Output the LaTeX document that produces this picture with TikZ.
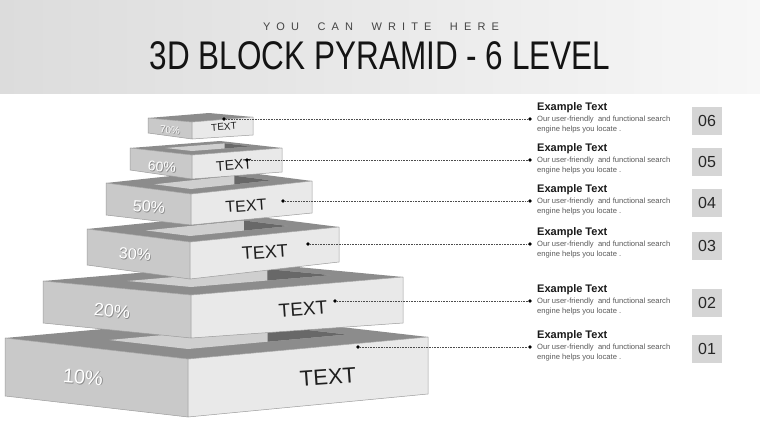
\documentclass[tikz,border=0pt]{standalone}
\usepackage{fontspec}
\usepackage{graphicx}
\setmainfont{Liberation Sans}
\usetikzlibrary{calc}
\definecolor{hdrL}{HTML}{DCDCDC}
\definecolor{hdrR}{HTML}{F7F7F7}
\definecolor{topc}{HTML}{8C8C8C}
\definecolor{leftc}{HTML}{C9C9C9}
\definecolor{rightc}{HTML}{E9E9E9}
\definecolor{holel}{HTML}{CFCFCF}
\definecolor{holed}{HTML}{686868}
\definecolor{edgec}{HTML}{9C9C9C}
\definecolor{subc}{HTML}{444444}
\definecolor{bodyc}{HTML}{5A5A5A}
\definecolor{boxc}{HTML}{D5D5D5}
\definecolor{shadc}{HTML}{8A8A8A}

\newcommand{\pyrblock}[2]{%
  \coordinate (#1a) at ($(#1L)-(#1F)$);
  \coordinate (#1b) at ($(#1R)-(#1F)$);
  \coordinate (#1B) at ($(#1L)+(#1b)$);
  \fill[topc] (#1L) -- (#1F) -- (#1R) -- (#1B) -- cycle;
  \ifdim #2pt>0pt
  \coordinate (#1Fh) at ($(#1F)+(0,-#2)$);
  \coordinate (#1Lh) at ($(#1Fh)+0.43*(#1a)$);
  \coordinate (#1Rh) at ($(#1Fh)+0.66*(#1b)$);
  \coordinate (#1Bh) at ($(#1Lh)+0.66*(#1b)$);
  \begin{scope}
    \clip (#1Lh) -- (#1Fh) -- (#1Rh) -- (#1Bh) -- cycle;
    \fill[holel] (#1Lh) -- (#1Fh) -- (#1Rh) -- (#1Bh) -- cycle;
    \fill[holed] (#1Bh) -- (#1Rh) -- ($(#1Rh)+(0,60)$) -- ($(#1Bh)+(0,60)$) -- cycle;
  \end{scope}
  \fi
  \draw[face, fill=leftc] (#1L) -- (#1F) -- (#1Fb) -- (#1Lb) -- cycle;
  \draw[face, fill=rightc] (#1F) -- (#1R) -- (#1Rb) -- (#1Fb) -- cycle;
}
\newcommand{\pctlabel}[5]{% name, pos, size, rot, text
  \node[font=\fontsize{#3}{#3}\selectfont, text=shadc, rotate=#4] at ($(#2)+(0.8,0.8)$) {#5};
  \node[font=\fontsize{#3}{#3}\selectfont, text=white, rotate=#4] (#1) at (#2) {#5};
}
\newcommand{\infoitem}[3]{% idx, y of body line 1, number
  \node[font=\fontsize{11}{11}\selectfont\bfseries, text=black!90, anchor=base west, inner sep=0pt] (h#1) at (537,#2-8.3) {Example Text};
  \node[bodytext] (t#1) at (537,#2+2.7) {Our user-friendly\ \ and functional search};
  \node[bodytext] (u#1) at (537,#2+12.2) {engine helps you locate .};
  \node[numbox] (n#1) at (707,#2+1.5) {#3};
}

\begin{document}
\begin{tikzpicture}[x=1pt,y=-1pt,
  face/.style={draw=edgec, line width=0.5pt, line join=round},
  conn/.style={draw=black!70, line width=0.7pt, dash pattern=on 0.7pt off 0.9pt},
  dotn/.style={circle, fill=black, inner sep=0pt, minimum size=3.6pt},
  bodytext/.style={font=\fontsize{7.6}{9.6}\selectfont, text=bodyc, anchor=base west, inner sep=0pt},
  numbox/.style={fill=boxc, minimum width=30pt, minimum height=28pt, inner sep=0pt, font=\fontsize{16}{16}\selectfont, text=black!85},
  facetext/.style={text=black!88}]
\useasboundingbox (0,0) rectangle (760,428);
\fill[white] (0,0) rectangle (760,428);
\shade[left color=hdrL, right color=hdrR] (0,0) rectangle (760,93);

\node[font=\fontsize{11}{11}\selectfont, text=subc] (sub) at (381,27) {\makebox[236pt][s]{Y\hfil O\hfil U\hfil\hfil\hfil C\hfil A\hfil N\hfil\hfil\hfil W\hfil R\hfil I\hfil T\hfil E\hfil\hfil\hfil H\hfil E\hfil R\hfil E}};
\node[font=\fontsize{40}{40}\selectfont, text=black!92] (title) at (380,56) {\scalebox{0.787}[1]{3D BLOCK PYRAMID - 6 LEVEL}};

% block 1
\coordinate (b1L) at (5,338);   \coordinate (b1F) at (188,359);  \coordinate (b1R) at (428,337);
\coordinate (b1Lb) at (5,396);  \coordinate (b1Fb) at (188,417); \coordinate (b1Rb) at (428,394);
% block 2
\coordinate (b2L) at (43,281);  \coordinate (b2F) at (191,295);  \coordinate (b2R) at (403,277);
\coordinate (b2Lb) at (43,323); \coordinate (b2Fb) at (191,338); \coordinate (b2Rb) at (403,323);
% block 3
\coordinate (b3L) at (87,229);  \coordinate (b3F) at (190,242);  \coordinate (b3R) at (339,227);
\coordinate (b3Lb) at (87,265); \coordinate (b3Fb) at (190,279); \coordinate (b3Rb) at (339,262);
% block 4
\coordinate (b4L) at (106,183);  \coordinate (b4F) at (191,194);  \coordinate (b4R) at (312,181);
\coordinate (b4Lb) at (106,215); \coordinate (b4Fb) at (191,225); \coordinate (b4Rb) at (312,213);
% block 5
\coordinate (b5L) at (130,148);  \coordinate (b5F) at (192,155);  \coordinate (b5R) at (282,148);
\coordinate (b5Lb) at (130,170); \coordinate (b5Fb) at (192,179); \coordinate (b5Rb) at (282,172);
% block 6
\coordinate (b6L) at (148,118);  \coordinate (b6F) at (192,122);  \coordinate (b6R) at (253,117);
\coordinate (b6Lb) at (148,133); \coordinate (b6Fb) at (192,139); \coordinate (b6Rb) at (253,135);

\pyrblock{b1}{10}
\pyrblock{b2}{8}
\pyrblock{b3}{6}
\pyrblock{b4}{5}
\pyrblock{b5}{4}
\pyrblock{b6}{0}

% left face labels
\pctlabel{p1}{83,377}{20}{-4}{10\%}
\pctlabel{p2}{112,311}{18}{-4}{20\%}
\pctlabel{p3}{135,254}{16}{-4}{30\%}
\pctlabel{p4}{149,207}{16}{-4}{50\%}
\pctlabel{p5}{162,167}{14}{-4}{60\%}
\pctlabel{p6}{170,130}{10}{-4}{70\%}

% right face labels
\node[facetext, font=\fontsize{22}{22}\selectfont, rotate=4] (x1) at (328,377) {TEXT};
\node[facetext, font=\fontsize{19}{19}\selectfont, rotate=4] (x2) at (303,309) {TEXT};
\node[facetext, font=\fontsize{18}{18}\selectfont, rotate=4] (x3) at (265,252) {TEXT};
\node[facetext, font=\fontsize{16}{16}\selectfont, rotate=4] (x4) at (246,206) {TEXT};
\node[facetext, font=\fontsize{14}{14}\selectfont, rotate=4] (x5) at (234,165) {TEXT};
\node[facetext, font=\fontsize{10}{10}\selectfont, rotate=4] (x6) at (224,127) {TEXT};

% info items
\infoitem{6}{119}{06}
\infoitem{5}{160}{05}
\infoitem{4}{201}{04}
\infoitem{3}{244}{03}
\infoitem{2}{301}{02}
\infoitem{1}{347}{01}

% connectors
\node[dotn] (d1a) at (358,347) {}; \node[dotn] (d1b) at (530,347) {};
\node[dotn] (d2a) at (335,301) {}; \node[dotn] (d2b) at (530,301) {};
\node[dotn] (d3a) at (308,244) {}; \node[dotn] (d3b) at (530,244) {};
\node[dotn] (d4a) at (283,201) {}; \node[dotn] (d4b) at (530,201) {};
\node[dotn] (d5a) at (247,160) {}; \node[dotn] (d5b) at (530,160) {};
\node[dotn] (d6a) at (224,119) {}; \node[dotn] (d6b) at (530,119) {};
\foreach \i in {1,...,6} { \draw[conn] (d\i a) -- (d\i b); }
\end{tikzpicture}
\end{document}
